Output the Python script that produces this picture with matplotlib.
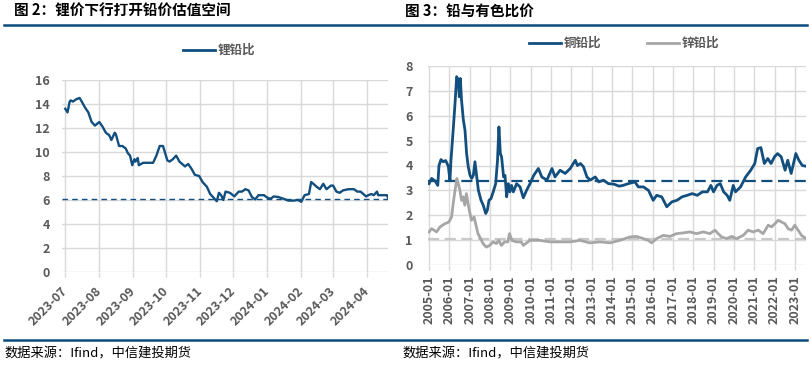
import matplotlib
matplotlib.use("Agg")
import matplotlib.pyplot as plt
from matplotlib.lines import Line2D
import pandas as pd

plt.rcParams['font.family'] = ['Noto Sans CJK SC', 'DejaVu Sans']

# ---- left chart: lithium / lead ratio (daily) ----
li_dates = ["2023-07-01", "2023-07-03", "2023-07-05", "2023-07-06", "2023-07-08", "2023-07-11",
            "2023-07-14", "2023-07-16", "2023-07-19", "2023-07-22", "2023-07-25", "2023-07-28",
            "2023-08-01", "2023-08-04", "2023-08-07", "2023-08-10", "2023-08-12", "2023-08-15",
            "2023-08-16", "2023-08-19", "2023-08-22", "2023-08-25", "2023-08-27", "2023-08-29",
            "2023-08-31", "2023-09-02", "2023-09-03", "2023-09-05", "2023-09-06", "2023-09-10",
            "2023-09-19", "2023-09-22", "2023-09-25", "2023-09-28", "2023-09-30", "2023-10-02",
            "2023-10-04", "2023-10-07", "2023-10-10", "2023-10-13", "2023-10-18", "2023-10-21",
            "2023-10-24", "2023-10-27", "2023-10-31", "2023-11-03", "2023-11-07", "2023-11-10",
            "2023-11-14", "2023-11-16", "2023-11-18", "2023-11-20", "2023-11-22", "2023-11-24",
            "2023-11-28", "2023-12-02", "2023-12-06", "2023-12-09", "2023-12-12", "2023-12-15",
            "2023-12-18", "2023-12-21", "2023-12-24", "2023-12-29", "2024-01-01", "2024-01-04",
            "2024-01-07", "2024-01-11", "2024-01-16", "2024-01-20", "2024-01-25", "2024-01-29",
            "2024-02-01", "2024-02-04", "2024-02-08", "2024-02-10", "2024-02-12", "2024-02-15",
            "2024-02-18", "2024-02-21", "2024-02-24", "2024-02-28", "2024-03-01", "2024-03-04",
            "2024-03-07", "2024-03-10", "2024-03-15", "2024-03-20", "2024-03-23", "2024-03-26",
            "2024-03-31", "2024-04-02", "2024-04-05", "2024-04-07", "2024-04-10", "2024-04-11",
            "2024-04-16", "2024-04-19", "2024-04-20"]
li_vals = [13.6, 13.3, 14.2, 14.3, 14.2, 14.4,
           14.5, 14.2, 13.7, 13.3, 12.5, 12.2,
           12.5, 12.1, 11.6, 11.4, 11.0, 11.6,
           11.5, 10.5, 10.5, 10.3, 9.9, 9.7,
           8.9, 9.4, 9.2, 9.5, 8.9, 9.1,
           9.1, 9.7, 10.5, 10.5, 9.9, 9.3,
           9.2, 9.4, 9.7, 9.2, 8.8, 9.0,
           8.6, 8.1, 8.0, 7.5, 7.1, 6.5,
           6.1, 5.9, 6.6, 6.4, 6.0, 6.7,
           6.6, 6.3, 6.7, 6.7, 6.9, 6.8,
           6.25, 6.05, 6.4, 6.4, 6.2, 6.1,
           6.3, 6.25, 6.1, 5.95, 5.95, 6.0,
           5.85, 6.4, 6.5, 7.5, 7.35, 7.1,
           6.9, 7.35, 6.9, 7.2, 7.2, 6.7,
           6.6, 6.8, 6.9, 6.9, 6.7, 6.7,
           6.3, 6.4, 6.5, 6.4, 6.7, 6.4,
           6.4, 6.4, 6.2]
li_avg = 6.05
li_ticks = ["2023-07", "2023-08", "2023-09", "2023-10", "2023-11",
            "2023-12", "2024-01", "2024-02", "2024-03", "2024-04"]

# ---- right chart: copper/lead and zinc/lead (decimal years) ----
cu_x = [2005.00, 2005.13, 2005.30, 2005.43, 2005.49, 2005.59, 2005.70, 2005.82, 2005.95, 2006.03,
        2006.08, 2006.20, 2006.28, 2006.36, 2006.44, 2006.49, 2006.54, 2006.60, 2006.69, 2006.77,
        2006.85, 2006.93, 2007.02, 2007.10, 2007.18, 2007.26, 2007.34, 2007.43, 2007.56, 2007.67,
        2007.79, 2007.87, 2007.95, 2008.05, 2008.16, 2008.28, 2008.37, 2008.44, 2008.51, 2008.57,
        2008.67, 2008.74, 2008.82, 2008.90, 2008.98, 2009.06, 2009.15, 2009.31, 2009.48, 2009.64,
        2009.80, 2009.97, 2010.15, 2010.38, 2010.55, 2010.80, 2011.05, 2011.20, 2011.45, 2011.70,
        2011.95, 2012.20, 2012.30, 2012.45, 2012.60, 2012.77, 2012.93, 2013.18, 2013.35, 2013.58,
        2013.83, 2014.10, 2014.35, 2014.55, 2014.80, 2015.13, 2015.30, 2015.55, 2015.80, 2016.03,
        2016.20, 2016.45, 2016.70, 2016.95, 2017.20, 2017.45, 2017.70, 2017.95, 2018.20, 2018.45,
        2018.70, 2018.87, 2019.00, 2019.17, 2019.33, 2019.50, 2019.67, 2019.80, 2019.97, 2020.08,
        2020.33, 2020.58, 2020.83, 2021.03, 2021.17, 2021.33, 2021.50, 2021.67, 2021.83, 2022.00,
        2022.15, 2022.33, 2022.52, 2022.65, 2022.82, 2023.05, 2023.20, 2023.37, 2023.55]
cu_y = [3.27, 3.48, 3.38, 3.20, 4.00, 4.24, 4.15, 4.20, 3.97, 3.40,
        4.20, 5.55, 6.50, 7.57, 7.44, 6.76, 7.50, 6.63, 5.83, 5.42,
        4.48, 3.95, 3.60, 3.48, 3.60, 4.15, 3.60, 3.00, 2.60, 2.40,
        2.07, 2.20, 2.60, 2.67, 2.94, 3.27, 4.20, 5.55, 4.48, 4.35,
        3.54, 3.60, 2.74, 3.27, 2.94, 3.20, 2.94, 3.27, 3.14, 2.70,
        3.00, 3.27, 3.60, 3.88, 3.54, 3.41, 3.88, 3.54, 3.81, 3.68,
        3.88, 4.21, 4.00, 4.08, 3.95, 3.54, 3.41, 3.54, 3.34, 3.41,
        3.27, 3.25, 3.17, 3.20, 3.27, 3.34, 3.14, 3.14, 3.00, 2.60,
        2.80, 2.74, 2.34, 2.54, 2.60, 2.74, 2.80, 2.87, 2.80, 2.94,
        2.94, 3.20, 2.94, 3.20, 3.27, 2.94, 2.80, 2.60, 3.20, 2.94,
        3.14, 3.54, 3.81, 4.08, 4.68, 4.72, 4.08, 4.28, 4.08, 4.35,
        4.48, 4.35, 3.81, 4.21, 3.68, 4.48, 4.21, 4.00, 3.97]
zn_x = [2005.00, 2005.13, 2005.37, 2005.54, 2005.78, 2005.98, 2006.11, 2006.19, 2006.27, 2006.37,
        2006.44, 2006.52, 2006.60, 2006.68, 2006.76, 2006.84, 2006.92, 2007.00, 2007.09, 2007.22,
        2007.33, 2007.41, 2007.54, 2007.66, 2007.82, 2007.99, 2008.15, 2008.31, 2008.43, 2008.56,
        2008.72, 2008.88, 2008.96, 2009.08, 2009.29, 2009.53, 2009.64, 2009.97, 2010.46, 2010.95,
        2011.44, 2011.93, 2012.43, 2012.92, 2013.41, 2013.90, 2014.39, 2014.89, 2015.21, 2015.54,
        2015.79, 2015.95, 2016.20, 2016.52, 2016.85, 2017.18, 2017.51, 2017.84, 2018.16, 2018.49,
        2018.82, 2019.07, 2019.23, 2019.39, 2019.64, 2019.89, 2020.13, 2020.46, 2020.70, 2020.95,
        2021.20, 2021.44, 2021.69, 2021.85, 2022.02, 2022.18, 2022.34, 2022.51, 2022.67, 2022.84,
        2023.00, 2023.16, 2023.33, 2023.55]
zn_y = [1.33, 1.46, 1.33, 1.53, 1.66, 1.73, 1.93, 2.47, 2.94, 3.48,
        3.27, 3.00, 2.60, 2.74, 2.40, 2.87, 2.47, 2.13, 1.80, 1.93,
        1.53, 1.26, 1.06, 0.86, 0.72, 0.79, 0.93, 0.86, 0.99, 0.79,
        0.93, 0.93, 1.26, 0.99, 0.93, 0.93, 0.79, 0.99, 0.99, 0.93,
        0.93, 0.93, 0.99, 0.89, 0.93, 0.89, 0.99, 1.13, 1.15, 1.06,
        0.99, 0.89, 1.06, 1.19, 1.15, 1.26, 1.29, 1.33, 1.26, 1.33,
        1.26, 1.40, 1.26, 1.13, 1.06, 1.15, 1.06, 1.19, 1.40, 1.33,
        1.40, 1.26, 1.60, 1.53, 1.66, 1.80, 1.73, 1.66, 1.46, 1.40,
        1.60, 1.40, 1.19, 1.06]
cu_avg = 3.37
zn_avg = 1.03
yr_ticks = list(range(2005, 2024))

BLUE = "#124E7E"
GREY = "#A6A6A6"
RULE = "#0B4A7D"
GRID = "#D9D9D9"
TXT = "#595959"

W, H = 811, 370
def fx(px):
    return px / W
def fy(py):
    return 1 - py / H

fig = plt.figure(figsize=(8.11, 3.70), dpi=100)

# left chart
ax1 = fig.add_axes([fx(62), fy(272), fx(388) - fx(62), fy(80) - fy(272)])
ax1.plot(pd.to_datetime(li_dates), li_vals, color=BLUE, lw=1.7, zorder=3)
ax1.axhline(li_avg, color=BLUE, lw=1, ls=(0, (4, 3)), zorder=3)
ax1.set_ylim(0, 16)
ax1.set_yticks(range(0, 17, 2))
ax1.set_xlim(pd.Timestamp("2023-06-28"), pd.Timestamp("2024-04-20"))
ax1.set_xticks(pd.to_datetime(li_ticks))
ax1.set_xticklabels(li_ticks, rotation=45, ha="right", va="center", rotation_mode="anchor")
ax1.tick_params(axis="x", length=3.6, color=GRID, width=1, pad=9, labelsize=9, labelcolor=TXT)
ax1.tick_params(axis="y", length=0, pad=8.6, labelsize=9, labelcolor=TXT)

# right chart
ax2 = fig.add_axes([fx(428), fy(265), fx(806) - fx(428), fy(66) - fy(265)])
ax2.plot(cu_x, cu_y, color=BLUE, lw=2, zorder=3)
ax2.plot(zn_x, zn_y, color=GREY, lw=2, zorder=3)
ax2.axhline(cu_avg, color=BLUE, lw=1.6, ls=(0, (5, 2.5)), zorder=2)
ax2.axhline(zn_avg, color="#C8C8C8", lw=1.6, ls=(0, (5, 2.5)), zorder=2)
ax2.set_ylim(0, 8)
ax2.set_yticks(range(0, 9))
ax2.set_xlim(2004.95, 2023.55)
ax2.set_xticks(yr_ticks)
ax2.set_xticklabels([f"{y}-01" for y in yr_ticks], rotation=90, ha="center", va="top")
ax2.tick_params(axis="x", length=3.6, color=GRID, width=1, pad=3.6, labelsize=9, labelcolor=TXT)
ax2.tick_params(axis="y", length=0, pad=11, labelsize=9, labelcolor=TXT)

for ax in (ax1, ax2):
    ax.grid(True, color=GRID, lw=1, zorder=0)
    ax.set_axisbelow(True)
    for s in ax.spines.values():
        s.set_visible(False)
    for lab in ax.get_xticklabels() + ax.get_yticklabels():
        lab.set_fontweight("bold")

# titles, rules, legends, sources
fig.text(fx(14), fy(11), "图 2：锂价下行打开铅价估值空间", fontsize=10.5, fontweight="bold", va="center")
fig.text(fx(405), fy(11), "图 3：铅与有色比价", fontsize=10.5, fontweight="bold", va="center")
for y in (25, 340):
    fig.add_artist(Line2D([fx(4), fx(807)], [fy(y), fy(y)], color=RULE, lw=1.8))

fig.add_artist(Line2D([fx(183), fx(215)], [fy(50), fy(50)], color=BLUE, lw=2))
fig.text(fx(218), fy(50), "锂铅比", fontsize=9, color=TXT, va="center", fontweight="bold")
fig.add_artist(Line2D([fx(529), fx(561)], [fy(43), fy(43)], color=BLUE, lw=2))
fig.text(fx(564), fy(43), "铜铅比", fontsize=9, color=TXT, va="center", fontweight="bold")
fig.add_artist(Line2D([fx(647), fx(679)], [fy(43), fy(43)], color=GREY, lw=2))
fig.text(fx(682), fy(43), "锌铅比", fontsize=9, color=TXT, va="center", fontweight="bold")

fig.text(fx(4), fy(354), "数据来源：Ifind，中信建投期货", fontsize=9.5, va="center")
fig.text(fx(402), fy(354), "数据来源：Ifind，中信建投期货", fontsize=9.5, va="center")

fig.savefig("out.png", dpi=100)
